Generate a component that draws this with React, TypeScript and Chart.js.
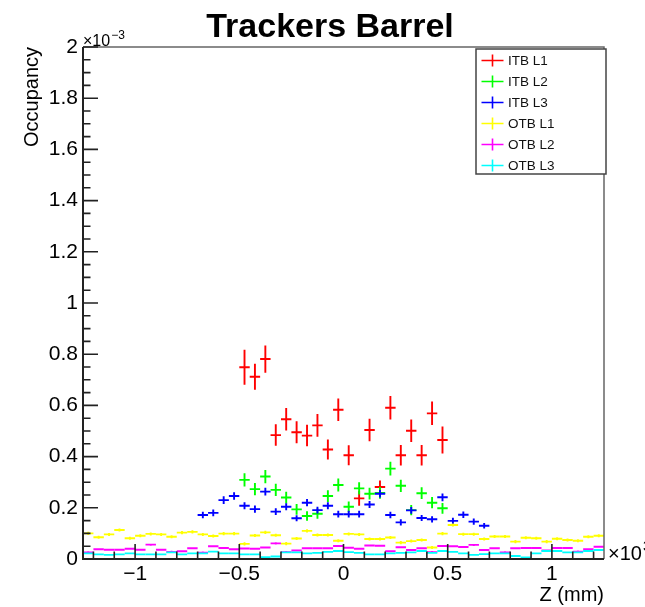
import React, { useEffect, useRef } from "react";
import { Chart, registerables } from "chart.js";

Chart.register(...registerables);

// ---- Data (Z in units of 10^3 mm, occupancy in units of 10^-3) ----
const zBinsAll = [
  -1.225, -1.175, -1.125, -1.075, -1.025, -0.975, -0.925, -0.875, -0.825, -0.775,
  -0.725, -0.675, -0.625, -0.575, -0.525, -0.475, -0.425, -0.375, -0.325, -0.275,
  -0.225, -0.175, -0.125, -0.075, -0.025, 0.025, 0.075, 0.125, 0.175, 0.225,
  0.275, 0.325, 0.375, 0.425, 0.475, 0.525, 0.575, 0.625, 0.675, 0.725,
  0.775, 0.825, 0.875, 0.925, 0.975, 1.025, 1.075, 1.125, 1.175, 1.225,
];
const zBinsITB12 = [
  -0.475, -0.425, -0.375, -0.325, -0.275, -0.225, -0.175, -0.125, -0.075, -0.025,
  0.025, 0.075, 0.125, 0.175, 0.225, 0.275, 0.325, 0.375, 0.425, 0.475,
];
const zBinsITB3 = [
  -0.675, -0.625, -0.575, -0.525, -0.475, -0.425, -0.375, -0.325, -0.275, -0.225,
  -0.175, -0.125, -0.075, -0.025, 0.025, 0.075, 0.125, 0.175, 0.225, 0.275,
  0.325, 0.375, 0.425, 0.475, 0.525, 0.575, 0.625, 0.675,
];
const binHalfWidth = 0.025;

const itbL1 = [
  0.749, 0.712, 0.781, 0.484, 0.546, 0.495, 0.482, 0.522, 0.428, 0.583,
  0.405, 0.237, 0.504, 0.281, 0.591, 0.405, 0.501, 0.405, 0.569, 0.465,
];
const itbL1Err = [
  0.068, 0.051, 0.053, 0.042, 0.044, 0.043, 0.042, 0.044, 0.039, 0.044,
  0.039, 0.029, 0.044, 0.026, 0.046, 0.040, 0.044, 0.040, 0.046, 0.053,
];
const itbL2 = [
  0.309, 0.273, 0.322, 0.270, 0.240, 0.194, 0.168, 0.177, 0.246, 0.289,
  0.204, 0.276, 0.255, 0.258, 0.353, 0.286, 0.191, 0.257, 0.220, 0.198,
];
const itbL2Err = [
  0.026, 0.024, 0.026, 0.024, 0.023, 0.021, 0.019, 0.020, 0.023, 0.025,
  0.021, 0.024, 0.023, 0.023, 0.027, 0.024, 0.020, 0.023, 0.022, 0.021,
];
const itbL3 = [
  0.172, 0.180, 0.230, 0.246, 0.208, 0.195, 0.263, 0.185, 0.204, 0.159,
  0.220, 0.191, 0.208, 0.175, 0.175, 0.175, 0.213, 0.255, 0.172, 0.143,
  0.190, 0.160, 0.155, 0.241, 0.149, 0.173, 0.146, 0.130,
];
const itbL3Err = [
  0.013, 0.013, 0.015, 0.015, 0.014, 0.014, 0.015, 0.013, 0.014, 0.012,
  0.014, 0.013, 0.014, 0.013, 0.013, 0.013, 0.014, 0.015, 0.013, 0.012,
  0.013, 0.012, 0.012, 0.015, 0.012, 0.013, 0.012, 0.011,
];
const otbL1 = [
  0.100, 0.085, 0.096, 0.113, 0.081, 0.091, 0.098, 0.096, 0.087, 0.103,
  0.106, 0.096, 0.090, 0.099, 0.099, 0.059, 0.092, 0.104, 0.093, 0.060,
  0.080, 0.110, 0.094, 0.094, 0.071, 0.098, 0.096, 0.078, 0.078, 0.084,
  0.064, 0.070, 0.074, 0.045, 0.099, 0.133, 0.097, 0.097, 0.078, 0.088,
  0.088, 0.068, 0.083, 0.081, 0.068, 0.079, 0.074, 0.071, 0.087, 0.091,
];
const otbL2 = [
  0.026, 0.038, 0.036, 0.036, 0.040, 0.036, 0.056, 0.036, 0.028, 0.030,
  0.042, 0.025, 0.050, 0.043, 0.038, 0.041, 0.040, 0.045, 0.061, 0.027,
  0.033, 0.042, 0.042, 0.042, 0.051, 0.044, 0.040, 0.053, 0.052, 0.030,
  0.046, 0.035, 0.042, 0.027, 0.051, 0.050, 0.047, 0.055, 0.035, 0.042,
  0.026, 0.042, 0.043, 0.043, 0.033, 0.043, 0.043, 0.029, 0.038, 0.048,
];
const otbL3 = [
  0.022, 0.018, 0.016, 0.018, 0.022, 0.018, 0.018, 0.018, 0.026, 0.018,
  0.022, 0.022, 0.029, 0.022, 0.022, 0.018, 0.018, 0.007, 0.010, 0.026,
  0.026, 0.022, 0.024, 0.028, 0.031, 0.027, 0.024, 0.018, 0.018, 0.022,
  0.024, 0.026, 0.031, 0.024, 0.031, 0.028, 0.022, 0.016, 0.019, 0.022,
  0.022, 0.012, 0.006, 0.022, 0.031, 0.031, 0.026, 0.026, 0.031, 0.035,
];
const otbL1Err = 0.006;
const otbL2Err = 0.004;
const otbL3Err = 0.003;

const seriesLabels = ["ITB L1", "ITB L2", "ITB L3", "OTB L1", "OTB L2", "OTB L3"];
const seriesColors = ["#ff0000", "#00ff00", "#0000ff", "#ffff00", "#ff00ff", "#00ffff"];

const xTickValues = [-1, -0.5, 0, 0.5, 1];
const yTickValues = [0, 0.2, 0.4, 0.6, 0.8, 1, 1.2, 1.4, 1.6, 1.8, 2];
const xMinorStep = 0.1;
const yMinorStep = 0.05;

const FONT = '"Liberation Sans", Arial, Helvetica, sans-serif';

function toPoints(xs: number[], ys: number[], errs: number[] | number) {
  return xs.map((x, i) => ({
    x,
    y: ys[i],
    xe: binHalfWidth,
    ye: Array.isArray(errs) ? errs[i] : errs,
  }));
}

const errorBarPlugin = {
  id: "rootErrorBars",
  afterDatasetsDraw(chart: any) {
    const { ctx, chartArea, scales } = chart;
    const xs = scales.x;
    const ys = scales.y;
    ctx.save();
    ctx.beginPath();
    ctx.rect(chartArea.left, chartArea.top, chartArea.right - chartArea.left, chartArea.bottom - chartArea.top);
    ctx.clip();
    chart.data.datasets.forEach((ds: any, i: number) => {
      if (!chart.isDatasetVisible(i)) return;
      ctx.strokeStyle = ds.borderColor;
      ctx.lineWidth = ds.borderWidth;
      ds.data.forEach((p: any) => {
        const px = xs.getPixelForValue(p.x);
        const py = ys.getPixelForValue(p.y);
        const x0 = xs.getPixelForValue(p.x - p.xe);
        const x1 = xs.getPixelForValue(p.x + p.xe);
        const y0 = ys.getPixelForValue(p.y - p.ye);
        const y1 = ys.getPixelForValue(p.y + p.ye);
        ctx.beginPath();
        ctx.moveTo(x0, py);
        ctx.lineTo(x1, py);
        ctx.moveTo(px, y0);
        ctx.lineTo(px, y1);
        ctx.stroke();
      });
    });
    ctx.restore();
  },
};

const framePlugin = {
  id: "rootFrame",
  afterDraw(chart: any) {
    const { ctx, chartArea, scales } = chart;
    const xs = scales.x;
    const ys = scales.y;
    const { left, right, top, bottom } = chartArea;
    ctx.save();

    // frame
    ctx.strokeStyle = "#666666";
    ctx.lineWidth = 1.5;
    ctx.beginPath();
    ctx.moveTo(left, top);
    ctx.lineTo(right, top);
    ctx.lineTo(right, bottom);
    ctx.stroke();
    ctx.strokeStyle = "#222222";
    ctx.lineWidth = 2;
    ctx.beginPath();
    ctx.moveTo(left, top);
    ctx.lineTo(left, bottom);
    ctx.lineTo(right, bottom);
    ctx.stroke();

    // ticks
    ctx.lineWidth = 1.6;
    ctx.strokeStyle = "#222222";
    ctx.beginPath();
    for (let v = -1.2; v <= 1.2001; v += xMinorStep) {
      const px = xs.getPixelForValue(v);
      const major = xTickValues.some((t) => Math.abs(t - v) < 1e-6);
      ctx.moveTo(px, bottom);
      ctx.lineTo(px, bottom - (major ? 15 : 7.5));
    }
    for (let v = 0; v <= 2.0001; v += yMinorStep) {
      const py = ys.getPixelForValue(v);
      const major = yTickValues.some((t) => Math.abs(t - v) < 1e-6);
      ctx.moveTo(left, py);
      ctx.lineTo(left + (major ? 15 : 7.5), py);
    }
    ctx.stroke();

    // title
    ctx.fillStyle = "#000";
    ctx.font = `bold 34px ${FONT}`;
    ctx.textAlign = "center";
    ctx.textBaseline = "alphabetic";
    ctx.fillText("Trackers Barrel", 330, 37);

    // exponent labels
    ctx.textAlign = "left";
    ctx.font = `16px ${FONT}`;
    ctx.fillText("×10", left, top - 1);
    const w1 = ctx.measureText("×10").width;
    ctx.font = `12px ${FONT}`;
    ctx.fillText("−3", left + w1 + 1, top - 8);

    ctx.font = `20px ${FONT}`;
    ctx.fillText("×10", right + 4, bottom + 1);
    const w2 = ctx.measureText("×10").width;
    ctx.font = `14px ${FONT}`;
    ctx.fillText("3", right + 5 + w2, bottom - 8);

    // legend
    const lx0 = right - 128;
    const lx1 = right + 2;
    const ly0 = top + 2;
    const ly1 = top + 127;
    ctx.fillStyle = "#ffffff";
    ctx.fillRect(lx0, ly0, lx1 - lx0, ly1 - ly0);
    ctx.strokeStyle = "#444444";
    ctx.lineWidth = 1.5;
    ctx.strokeRect(lx0, ly0, lx1 - lx0, ly1 - ly0);
    ctx.font = `13.5px ${FONT}`;
    ctx.textBaseline = "middle";
    chart.data.datasets.forEach((ds: any, i: number) => {
      const cy = ly0 + 11.5 + i * 21;
      const cx = lx0 + 16.5;
      ctx.strokeStyle = ds.borderColor;
      ctx.lineWidth = 1.6;
      ctx.beginPath();
      ctx.moveTo(cx - 11, cy);
      ctx.lineTo(cx + 11, cy);
      ctx.moveTo(cx, cy - 6);
      ctx.lineTo(cx, cy + 6);
      ctx.stroke();
      ctx.fillStyle = "#111";
      ctx.fillText(ds.label, lx0 + 32, cy + 0.5);
    });

    ctx.restore();
  },
};

export default function App() {
  const canvasRef = useRef<HTMLCanvasElement | null>(null);

  useEffect(() => {
    if (!canvasRef.current) return;
    const seriesData = [
      toPoints(zBinsITB12, itbL1, itbL1Err),
      toPoints(zBinsITB12, itbL2, itbL2Err),
      toPoints(zBinsITB3, itbL3, itbL3Err),
      toPoints(zBinsAll, otbL1, otbL1Err),
      toPoints(zBinsAll, otbL2, otbL2Err),
      toPoints(zBinsAll, otbL3, otbL3Err),
    ];
    const chart = new Chart(canvasRef.current, {
      type: "scatter",
      data: {
        datasets: seriesLabels.map((label, i) => ({
          label,
          data: seriesData[i],
          borderColor: seriesColors[i],
          backgroundColor: seriesColors[i],
          borderWidth: 1.9,
          pointRadius: 0,
          pointHoverRadius: 0,
          showLine: false,
        })),
      },
      options: {
        animation: false,
        responsive: false,
        devicePixelRatio: 1,
        layout: { padding: { top: 47, right: 41, left: 0, bottom: 0 } },
        plugins: {
          legend: { display: false },
          title: { display: false },
          tooltip: { enabled: false },
        },
        scales: {
          x: {
            type: "linear",
            position: "bottom",
            min: -1.25,
            max: 1.25,
            grid: { display: false, drawTicks: false },
            border: { display: false },
            afterBuildTicks: (s: any) => {
              s.ticks = xTickValues.map((v) => ({ value: v }));
            },
            afterFit: (s: any) => {
              s.height = 48;
            },
            ticks: {
              autoSkip: false,
              maxRotation: 0,
              padding: 3,
              color: "#000",
              font: { family: FONT, size: 21 },
              callback: (v: any) => {
                const n = Number(v);
                return n < 0 ? "−" + Math.abs(n) : String(n);
              },
            },
            title: {
              display: true,
              text: "Z (mm)",
              align: "end",
              color: "#000",
              font: { family: FONT, size: 20 },
              padding: { top: 0, bottom: 0 },
            },
          },
          y: {
            type: "linear",
            min: 0,
            max: 2,
            grid: { display: false, drawTicks: false },
            border: { display: false },
            afterBuildTicks: (s: any) => {
              s.ticks = yTickValues.map((v) => ({ value: v }));
            },
            afterFit: (s: any) => {
              s.width = 83;
            },
            ticks: {
              autoSkip: false,
              padding: 5,
              color: "#000",
              font: { family: FONT, size: 21 },
              callback: (v: any) => String(Number(Number(v).toFixed(1))),
            },
            title: {
              display: true,
              text: "Occupancy",
              align: "end",
              color: "#000",
              font: { family: FONT, size: 20 },
              padding: { top: 20, bottom: 0 },
            },
          },
        },
      },
      plugins: [errorBarPlugin, framePlugin],
    } as any);
    return () => chart.destroy();
  }, []);

  return (
    <div style={{ position: "absolute", left: 0, top: 0, width: 645, height: 607, background: "#fff" }}>
      <canvas ref={canvasRef} width={645} height={607} style={{ display: "block" }} />
    </div>
  );
}
